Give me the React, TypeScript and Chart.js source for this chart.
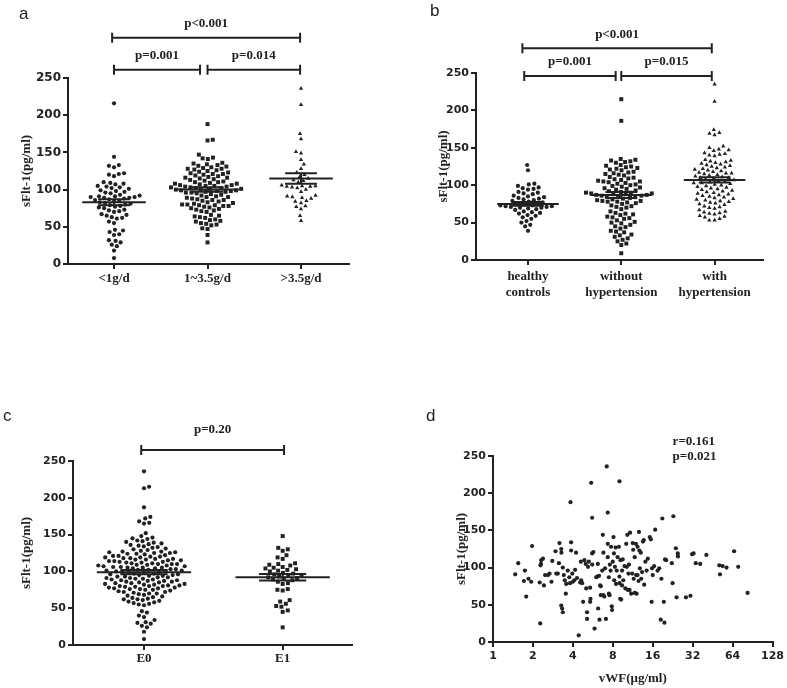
import React, { useEffect, useRef } from "react";
import { Chart, registerables } from "chart.js";
Chart.register(...registerables);

const INK = "#222222";
const SERIF = "'Liberation Serif', 'Times New Roman', serif";
const SANS = "'DejaVu Sans', sans-serif";
const Y_TITLE = "sFlt-1(pg/ml)";

// ---------------- Panel a ----------------
const catsA = ["<1g/d", "1~3.5g/d", ">3.5g/d"];
const aLow = [216, 144, 133, 132, 130, 122, 121, 120, 118, 110, 109, 108, 107, 105, 104, 103, 102, 101, 99, 98, 97, 96, 95, 93, 92, 91, 91, 90, 90, 89, 89, 88, 87, 86, 85, 84, 83, 82, 81, 80, 79, 78, 77, 76, 75, 73, 72, 71, 70, 67, 66, 65, 63, 62, 61, 57, 55, 46, 45, 43, 40, 39, 32, 31, 29, 26, 24, 18, 8];
const aMid = [188, 167, 166, 147, 143, 142, 141, 136, 135, 134, 133, 132, 131, 130, 129, 128, 128, 127, 126, 125, 124, 123, 122, 121, 121, 120, 119, 118, 117, 116, 116, 115, 114, 113, 112, 111, 110, 110, 109, 108, 108, 107, 106, 106, 105, 105, 104, 104, 103, 103, 102, 102, 101, 101, 100, 100, 99, 99, 98, 98, 97, 97, 96, 96, 95, 94, 93, 92, 91, 90, 90, 89, 88, 87, 86, 86, 85, 84, 83, 82, 81, 80, 80, 79, 79, 78, 78, 77, 76, 75, 74, 73, 72, 71, 70, 66, 65, 64, 63, 62, 60, 59, 58, 57, 55, 54, 53, 52, 48, 47, 39, 29];
const aHigh = [236, 214, 175, 168, 151, 149, 140, 134, 128, 123, 120, 117, 115, 113, 112, 110, 106, 105, 105, 104, 104, 103, 102, 100, 97, 92, 91, 90, 89, 88, 85, 84, 82, 78, 77, 74, 65, 58];
const meanA = [83, 100, 115];
const semA = [4, 3, 7];
const brFromA = [-0.02, 0, 1];
const brToA = [1.99, 0.92, 1.99];
const brLevelA = [304, 261, 261];
const pTextA = ["p<0.001", "p=0.001", "p=0.014"];

// ---------------- Panel b ----------------
const catsB = [["healthy", "controls"], ["without", "hypertension"], ["with", "hypertension"]];
const bHealthy = [127, 120, 102, 101, 99, 97, 96, 95, 94, 91, 90, 89, 88, 86, 85, 84, 83, 82, 81, 80, 79, 78, 77, 76, 75, 74, 73, 73, 72, 72, 71, 71, 70, 70, 69, 68, 67, 65, 64, 63, 62, 60, 59, 57, 55, 52, 50, 47, 45, 39];
const bNoHyp = [215, 186, 135, 134, 133, 132, 131, 130, 127, 126, 125, 124, 123, 122, 121, 120, 118, 117, 116, 115, 114, 113, 111, 110, 109, 108, 107, 106, 105, 105, 104, 103, 102, 101, 100, 99, 98, 97, 96, 95, 94, 93, 92, 91, 90, 90, 89, 89, 88, 88, 87, 87, 86, 86, 85, 85, 84, 83, 82, 81, 80, 79, 79, 78, 78, 77, 76, 75, 73, 72, 71, 70, 68, 65, 63, 62, 61, 60, 58, 57, 56, 55, 53, 51, 50, 49, 47, 45, 44, 42, 39, 38, 37, 34, 33, 31, 29, 27, 25, 22, 20, 9];
const bHyp = [235, 212, 174, 170, 169, 167, 152, 150, 148, 147, 146, 143, 142, 141, 140, 139, 134, 133, 132, 131, 130, 129, 128, 127, 126, 125, 124, 123, 122, 121, 120, 119, 118, 117, 116, 116, 115, 114, 113, 112, 111, 110, 110, 109, 108, 107, 106, 105, 104, 103, 103, 102, 101, 100, 99, 98, 97, 96, 95, 94, 93, 92, 91, 90, 89, 88, 87, 86, 85, 84, 83, 82, 81, 80, 79, 78, 77, 76, 75, 74, 72, 71, 70, 69, 67, 65, 64, 63, 62, 61, 59, 58, 57, 55, 53, 53];
const meanB = [75, 87, 107];
const semB = [2.5, 4, 3.5];
const brFromB = [-0.06, -0.04, 1.0];
const brToB = [1.97, 0.94, 1.97];
const brLevelB = [283, 246, 246];
const pTextB = ["p<0.001", "p=0.001", "p=0.015"];

// ---------------- Panel c ----------------
const catsC = ["E0", "E1"];
const cE0 = [236, 215, 213, 187, 174, 172, 168, 166, 165, 152, 148, 146, 145, 144, 142, 141, 140, 139, 138, 137, 136, 135, 134, 133, 132, 131, 130, 129, 128, 127, 127, 126, 126, 125, 125, 124, 124, 123, 122, 121, 121, 120, 120, 119, 119, 118, 118, 117, 117, 116, 116, 115, 115, 114, 114, 113, 113, 112, 112, 111, 111, 110, 110, 110, 109, 109, 108, 108, 107, 107, 106, 106, 105, 105, 105, 104, 104, 103, 103, 102, 102, 101, 101, 100, 100, 99, 99, 98, 98, 97, 97, 96, 96, 95, 95, 94, 94, 93, 93, 92, 92, 91, 91, 90, 90, 89, 89, 88, 88, 87, 87, 86, 86, 85, 85, 84, 84, 83, 83, 82, 82, 81, 81, 80, 80, 80, 79, 79, 78, 78, 77, 77, 76, 76, 75, 75, 74, 73, 72, 72, 71, 70, 70, 69, 68, 67, 66, 65, 64, 63, 62, 62, 61, 60, 59, 58, 57, 56, 55, 54, 46, 44, 40, 38, 34, 31, 30, 29, 26, 24, 18, 8];
const cE1 = [148, 132, 130, 128, 122, 119, 117, 111, 110, 109, 108, 106, 105, 104, 103, 102, 101, 100, 98, 97, 96, 95, 94, 93, 92, 91, 90, 89, 88, 86, 84, 83, 76, 75, 74, 61, 59, 56, 53, 52, 47, 45, 24];
const meanC = [99, 92];
const semC = [3, 4.5];
const brFromC = [-0.02];
const brToC = [1.01];
const brLevelC = [265];
const pTextC = ["p=0.20"];

// ---------------- Panel d ----------------
const xTicksD = [1, 2, 4, 8, 16, 32, 64, 128];
const statTextD = ["r=0.161", "p=0.021"];
const statPosD = [22.6, 269];
const dPoints: [number, number][] = [
  [1.47, 91], [1.55, 106], [1.74, 96], [1.71, 82], [1.85, 85], [1.78, 61], [1.97, 129], [1.94, 81],
  [2.27, 25], [2.25, 80], [2.31, 110], [2.38, 112], [2.3, 105], [2.42, 76], [2.47, 90], [2.6, 90],
  [2.67, 92], [2.8, 109], [2.76, 81], [2.96, 122], [3.08, 92], [3.17, 133], [3.27, 125], [3.28, 120],
  [3.14, 106], [3.36, 100], [3.54, 65], [3.27, 49], [3.32, 45], [3.36, 40], [3.42, 90], [3.48, 83],
  [3.56, 78], [3.66, 96], [3.76, 87], [3.81, 79], [3.88, 134], [3.84, 188], [3.88, 123], [3.96, 92],
  [4.0, 81], [4.1, 83], [4.23, 120], [4.16, 97], [4.43, 9], [4.54, 80], [4.62, 83], [4.6, 108],
  [4.78, 54], [4.89, 110], [5.04, 72], [5.12, 40], [5.12, 31], [5.2, 101], [5.28, 108], [5.4, 73],
  [5.4, 54], [5.43, 58], [5.5, 214], [5.59, 167], [5.59, 119], [5.71, 121], [5.83, 18], [6.0, 87],
  [6.1, 88], [6.17, 105], [6.2, 45], [6.35, 30], [6.42, 76], [6.5, 75], [6.5, 63], [6.66, 96],
  [6.73, 144], [6.8, 63], [6.9, 61], [7.0, 99], [7.1, 31], [7.2, 236], [7.33, 174], [7.33, 132],
  [7.33, 114], [7.47, 87], [7.47, 65], [7.56, 63], [7.7, 96], [7.76, 128], [7.86, 48], [7.9, 43],
  [8.0, 108], [8.1, 141], [8.16, 119], [8.2, 83], [8.4, 127], [8.46, 78], [8.56, 96], [8.7, 114],
  [8.9, 128], [8.98, 216], [8.98, 88], [9.1, 58], [9.25, 57], [9.15, 110], [9.4, 76], [9.4, 96],
  [9.5, 111], [9.6, 83], [9.8, 102], [9.95, 72], [10.1, 132], [10.2, 101], [10.3, 144], [10.4, 70],
  [10.6, 104], [10.7, 70], [10.8, 147], [11.0, 65], [11.2, 92], [11.3, 133], [11.4, 124], [11.7, 114],
  [11.7, 66], [11.95, 132], [12.0, 90], [12.1, 65], [12.3, 128], [12.3, 90], [12.6, 148], [12.7, 123],
  [12.8, 99], [13.1, 85], [13.3, 94], [13.5, 135], [13.7, 137], [13.8, 77], [14.1, 108], [14.4, 96],
  [14.7, 112], [15.2, 141], [15.5, 138], [15.7, 54], [15.8, 99], [16.0, 90], [16.4, 102], [16.7, 151],
  [17.4, 96], [17.9, 99], [18.4, 30], [18.6, 85], [18.9, 166], [19.4, 54], [19.6, 26], [19.8, 111],
  [20.2, 110], [22.3, 106], [22.6, 79], [22.9, 169], [23.9, 126], [24.7, 119], [24.8, 115], [24.2, 60],
  [28.5, 60], [30.8, 62], [31.7, 118], [32.5, 119], [33.8, 106], [36.5, 105], [40.6, 117], [50.8, 103],
  [51.4, 91], [53.8, 102], [57.6, 100], [65.7, 122], [70.6, 101], [83, 66],
  [2.28, 103], [3.0, 92], [4.3, 86], [4.7, 79], [5.0, 105], [5.6, 104], [6.3, 89], [7.6, 104],
  [8.3, 101], [9.0, 79], [10.5, 92], [11.5, 85], [12.5, 82], [13.0, 120], [6.8, 120]
];

// ---------------- layout helpers ----------------
type Geo = { left: number; top: number; width: number; height: number; padL: number; padT: number; padR: number; yW: number; xH: number; xMin: number; xMax: number };

const geoA: Geo = { left: 0, top: 0, width: 393, height: 335, padL: 19, padT: 78, padR: 44, yW: 49, xH: 71, xMin: -0.492, xMax: 2.513 };
const geoB: Geo = { left: 393, top: 0, width: 394, height: 335, padL: 43, padT: 73, padR: 24, yW: 40, xH: 75, xMin: -0.557, xMax: 2.519 };
const geoC: Geo = { left: 0, top: 335, width: 393, height: 353, padL: 19, padT: 126, padR: 41, yW: 54, xH: 43, xMin: -0.512, xMax: 1.5 };
const geoD: Geo = { left: 393, top: 335, width: 394, height: 353, padL: 61, padT: 121, padR: 14, yW: 39, xH: 46, xMin: 1, xMax: 128 };

function swarmOffsets(values: number[], pxY: number, d: number): number[] {
  const idx = values.map((_, i) => i).sort((i, j) => values[i] - values[j]);
  const placed: { x: number; y: number }[] = [];
  const out = new Array(values.length).fill(0);
  idx.forEach((i, k) => {
    const y = values[i] * pxY;
    const near = placed.filter((p) => Math.abs(p.y - y) < d);
    const cands = [0];
    near.forEach((p) => {
      const dx = Math.sqrt(d * d - (p.y - y) ** 2);
      cands.push(p.x - dx, p.x + dx);
    });
    cands.sort((a, b) => Math.abs(a) - Math.abs(b) || (k % 2 ? a - b : b - a));
    let best = 0;
    for (const c of cands) {
      if (near.every((p) => Math.abs(c - p.x) >= Math.sqrt(d * d - (p.y - y) ** 2) - 1e-6)) {
        best = c;
        break;
      }
    }
    placed.push({ x: best, y });
    out[i] = best;
  });
  return out;
}

type TextItem = { text: string; x: number; y: number; dy: number; align: CanvasTextAlign; font: string };

function textPlugin(items: TextItem[]) {
  return {
    id: "texts",
    afterDatasetsDraw(chart: any) {
      const { ctx } = chart;
      const xs = chart.scales.x;
      const ys = chart.scales.y;
      ctx.save();
      items.forEach((t) => {
        ctx.font = t.font;
        ctx.fillStyle = INK;
        ctx.textAlign = t.align;
        ctx.textBaseline = "middle";
        ctx.fillText(t.text, xs.getPixelForValue(t.x), ys.getPixelForValue(t.y) + t.dy);
      });
      ctx.restore();
    },
  };
}

type DotSpec = {
  geo: Geo;
  cats: (string | string[])[];
  groups: number[][];
  styles: string[];
  radii: number[];
  means: number[];
  sems: number[];
  meanHalf: number;
  capHalf: number;
  brFrom: number[];
  brTo: number[];
  brLevel: number[];
  pText: string[];
  pDy: number;
  yTickSize: number;
  xTickSize: number;
  xTickPad: number;
};

function yScale(geo: Geo, size: number) {
  return {
    type: "linear",
    min: 0,
    max: 250,
    ticks: { stepSize: 50, font: { family: SANS, weight: "bold", size }, color: INK, padding: 2 },
    grid: { drawOnChartArea: false, drawTicks: true, tickLength: 5, color: INK, lineWidth: 2 },
    border: { display: true, color: INK, width: 2 },
    title: { display: true, text: Y_TITLE, font: { family: SERIF, weight: "bold", size: 13 }, color: INK, padding: 0 },
    afterFit: (s: any) => {
      s.width = geo.yW;
    },
  };
}

function buildDotChart(canvas: HTMLCanvasElement, sp: DotSpec) {
  const g = sp.geo;
  const plotH = g.height - g.xH - g.padT;
  const plotW = g.width - g.padR - g.padL - g.yW;
  const pxY = plotH / 250;
  const pxX = plotW / (g.xMax - g.xMin);
  const datasets: any[] = [];
  const line = (data: { x: number; y: number }[]) => ({
    data,
    showLine: true,
    pointRadius: 0,
    borderColor: INK,
    borderWidth: 2,
    backgroundColor: INK,
    clip: false,
  });
  sp.groups.forEach((vals, gi) => {
    const off = swarmOffsets(vals, pxY, 5.3);
    datasets.push({
      data: vals.map((v, i) => ({ x: gi + off[i] / pxX, y: v })),
      pointStyle: sp.styles[gi],
      pointRadius: sp.radii[gi],
      pointBackgroundColor: INK,
      pointBorderWidth: 0,
      showLine: false,
      clip: false,
    });
    const m = sp.means[gi];
    const s = sp.sems[gi];
    datasets.push(line([{ x: gi - sp.meanHalf, y: m }, { x: gi + sp.meanHalf, y: m }]));
    datasets.push(
      line([
        { x: gi - sp.capHalf, y: m + s },
        { x: gi + sp.capHalf, y: m + s },
        { x: gi, y: m + s },
        { x: gi, y: m - s },
        { x: gi - sp.capHalf, y: m - s },
        { x: gi + sp.capHalf, y: m - s },
      ])
    );
  });
  const tick = 5 / pxY;
  const texts: TextItem[] = [];
  sp.brFrom.forEach((f, i) => {
    const t = sp.brTo[i];
    const lv = sp.brLevel[i];
    datasets.push(
      line([
        { x: f, y: lv + tick },
        { x: f, y: lv - tick },
        { x: f, y: lv },
        { x: t, y: lv },
        { x: t, y: lv + tick },
        { x: t, y: lv - tick },
      ])
    );
    texts.push({ text: sp.pText[i], x: (f + t) / 2, y: lv, dy: sp.pDy, align: "center", font: `bold 13px ${SERIF}` });
  });

  return new Chart(canvas, {
    type: "scatter",
    data: { datasets },
    plugins: [textPlugin(texts)],
    options: {
      responsive: false,
      animation: false,
      devicePixelRatio: 1,
      events: [],
      layout: { padding: { left: g.padL, top: g.padT, right: g.padR, bottom: 0 } },
      plugins: { legend: { display: false }, tooltip: { enabled: false } },
      scales: {
        x: {
          type: "linear",
          min: g.xMin,
          max: g.xMax,
          afterBuildTicks: (s: any) => {
            s.ticks = sp.cats.map((_, i) => ({ value: i }));
          },
          afterFit: (s: any) => {
            s.height = g.xH;
          },
          ticks: {
            callback: (v: any) => sp.cats[Math.round(v)],
            font: { family: SERIF, weight: "bold", size: sp.xTickSize },
            color: INK,
            padding: sp.xTickPad,
            autoSkip: false,
            maxRotation: 0,
          },
          grid: { drawOnChartArea: false, drawTicks: true, tickLength: 5, color: INK, lineWidth: 2 },
          border: { display: true, color: INK, width: 2 },
        },
        y: yScale(g, sp.yTickSize),
      },
    } as any,
  });
}

function buildScatterD(canvas: HTMLCanvasElement) {
  const g = geoD;
  const texts: TextItem[] = statTextD.map((t, i) => ({
    text: t,
    x: statPosD[0],
    y: statPosD[1],
    dy: i * 15,
    align: "left",
    font: `bold 13px ${SERIF}`,
  }));
  return new Chart(canvas, {
    type: "scatter",
    data: {
      datasets: [
        {
          data: dPoints.map(([x, y]) => ({ x, y })),
          pointStyle: "circle",
          pointRadius: 2.1,
          pointBackgroundColor: INK,
          pointBorderWidth: 0,
          showLine: false,
          clip: false,
        },
      ],
    },
    plugins: [textPlugin(texts)],
    options: {
      responsive: false,
      animation: false,
      devicePixelRatio: 1,
      events: [],
      layout: { padding: { left: g.padL, top: g.padT, right: g.padR, bottom: 0 } },
      plugins: { legend: { display: false }, tooltip: { enabled: false } },
      scales: {
        x: {
          type: "logarithmic",
          min: g.xMin,
          max: g.xMax,
          afterBuildTicks: (s: any) => {
            s.ticks = xTicksD.map((v) => ({ value: v }));
          },
          afterFit: (s: any) => {
            s.height = g.xH;
          },
          ticks: {
            callback: (v: any) => String(Math.round(v)),
            font: { family: SANS, weight: "bold", size: 11 },
            color: INK,
            padding: 3,
            autoSkip: false,
            maxRotation: 0,
          },
          grid: { drawOnChartArea: false, drawTicks: true, tickLength: 5, color: INK, lineWidth: 2 },
          border: { display: true, color: INK, width: 2 },
          title: {
            display: true,
            text: "vWF(μg/ml)",
            font: { family: SERIF, weight: "bold", size: 13 },
            color: INK,
            padding: { top: 0, bottom: 2 },
          },
        },
        y: yScale(g, 11),
      },
    } as any,
  });
}

const specA: DotSpec = {
  geo: geoA, cats: catsA, groups: [aLow, aMid, aHigh], styles: ["circle", "rect", "triangle"], radii: [2.1, 2.8, 2.5],
  means: meanA, sems: semA, meanHalf: 0.34, capHalf: 0.17, brFrom: brFromA, brTo: brToA, brLevel: brLevelA, pText: pTextA,
  pDy: -14, yTickSize: 12, xTickSize: 13, xTickPad: 2,
};
const specB: DotSpec = {
  geo: geoB, cats: catsB, groups: [bHealthy, bNoHyp, bHyp], styles: ["circle", "rect", "triangle"], radii: [2.1, 2.8, 2.5],
  means: meanB, sems: semB, meanHalf: 0.33, capHalf: 0.17, brFrom: brFromB, brTo: brToB, brLevel: brLevelB, pText: pTextB,
  pDy: -14, yTickSize: 11, xTickSize: 13, xTickPad: 4,
};
const specC: DotSpec = {
  geo: geoC, cats: catsC, groups: [cE0, cE1], styles: ["circle", "rect"], radii: [2.1, 2.8],
  means: meanC, sems: semC, meanHalf: 0.34, capHalf: 0.17, brFrom: brFromC, brTo: brToC, brLevel: brLevelC, pText: pTextC,
  pDy: -20, yTickSize: 11, xTickSize: 13, xTickPad: 1,
};

function ChartBox({ geo, build }: { geo: Geo; build: (c: HTMLCanvasElement) => Chart }) {
  const ref = useRef<HTMLCanvasElement>(null);
  useEffect(() => {
    const chart = build(ref.current as HTMLCanvasElement);
    return () => chart.destroy();
  }, []);
  return (
    <canvas
      ref={ref}
      width={geo.width}
      height={geo.height}
      style={{ position: "absolute", left: geo.left, top: geo.top, width: geo.width, height: geo.height }}
    />
  );
}

const letterStyle = (left: number, top: number): React.CSSProperties => ({
  position: "absolute",
  left,
  top,
  fontFamily: "'Liberation Sans', Arial, sans-serif",
  fontSize: 17,
  lineHeight: "17px",
  color: INK,
});

export default function App() {
  return (
    <div style={{ position: "absolute", left: 0, top: 0, width: 787, height: 688, overflow: "hidden", background: "#fff" }}>
      <ChartBox geo={geoA} build={(c) => buildDotChart(c, specA)} />
      <ChartBox geo={geoB} build={(c) => buildDotChart(c, specB)} />
      <ChartBox geo={geoC} build={(c) => buildDotChart(c, specC)} />
      <ChartBox geo={geoD} build={buildScatterD} />
      <div style={letterStyle(19, 5)}>a</div>
      <div style={letterStyle(430, 2)}>b</div>
      <div style={letterStyle(3, 407)}>c</div>
      <div style={letterStyle(426, 407)}>d</div>
    </div>
  );
}
